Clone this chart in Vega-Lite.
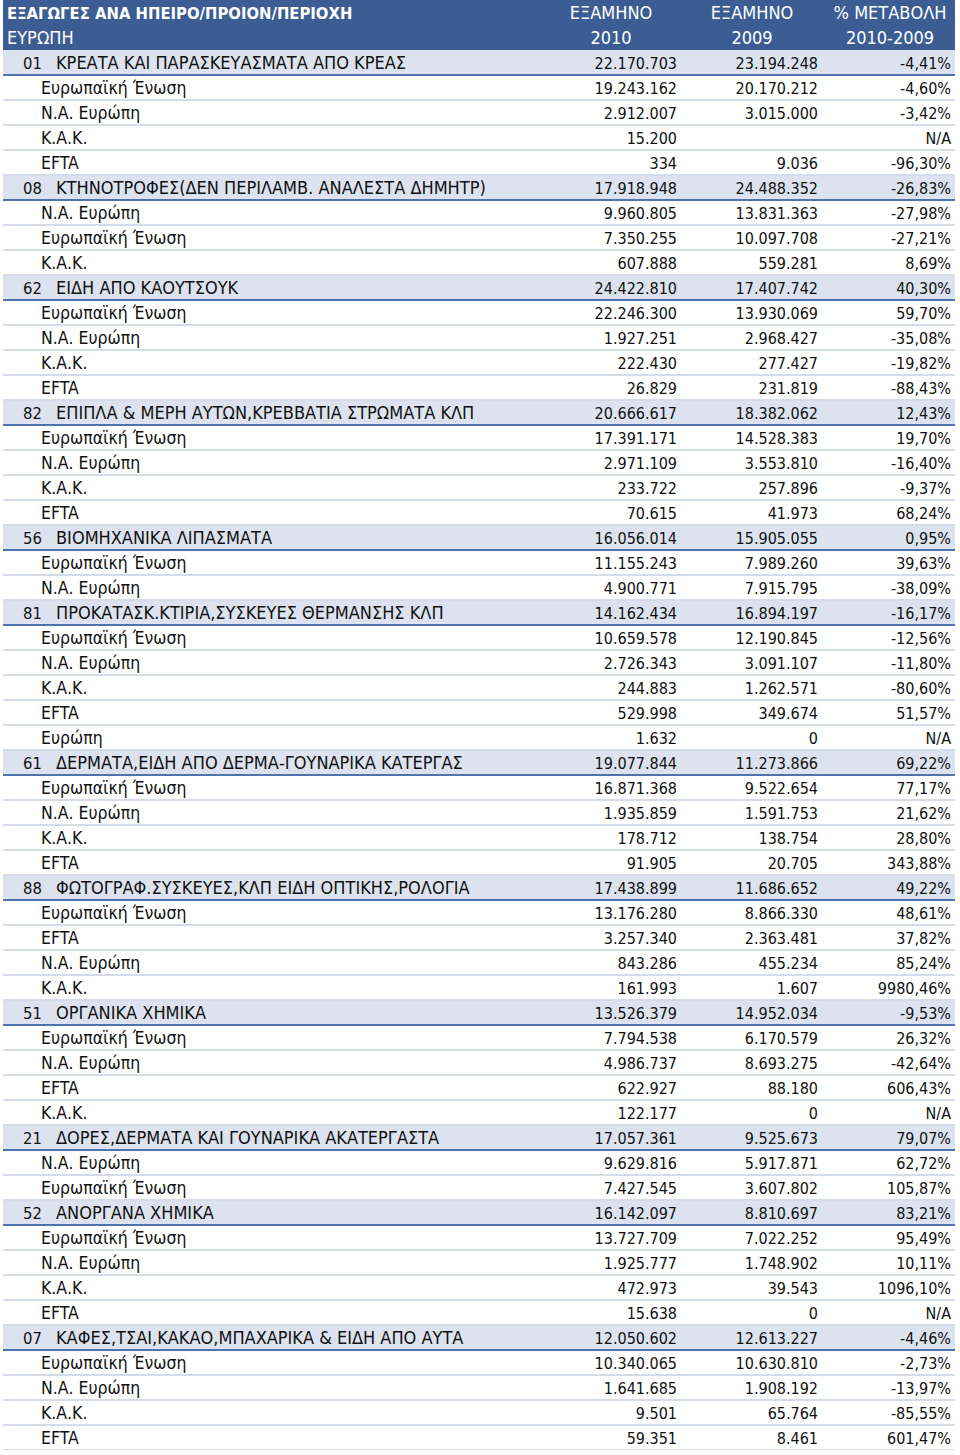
{
  "$schema": "https://vega.github.io/schema/vega-lite/v6.json",
  "width": 960,
  "height": 1450,
  "padding": 0,
  "autosize": {"type": "none"},
  "background": "white",
  "config": {
    "view": {"stroke": null},
    "text": {"font": "Liberation Sans Narrow, DejaVu Sans Condensed, sans-serif", "fontSize": 18, "color": "#111111", "baseline": "middle"}
  },
  "data": {
    "values": [
      {"r": 0, "kind": "h1", "code": "", "label": "ΕΞΑΓΩΓΕΣ ΑΝΑ ΗΠΕΙΡΟ/ΠΡΟΙΟΝ/ΠΕΡΙΟΧΗ", "a": "ΕΞΑΜΗΝΟ", "b": "ΕΞΑΜΗΝΟ", "c": "% ΜΕΤΑΒΟΛΗ"},
      {"r": 1, "kind": "h2", "code": "", "label": "ΕΥΡΩΠΗ", "a": "2010", "b": "2009", "c": "2010-2009"},
      {"r": 2, "kind": "cat", "code": "01", "label": "ΚΡΕΑΤΑ ΚΑΙ ΠΑΡΑΣΚΕΥΑΣΜΑΤΑ ΑΠΟ ΚΡΕΑΣ", "a": "22.170.703", "b": "23.194.248", "c": "-4,41%"},
      {"r": 3, "kind": "sub", "code": "", "label": "Ευρωπαϊκή Ένωση", "a": "19.243.162", "b": "20.170.212", "c": "-4,60%"},
      {"r": 4, "kind": "sub", "code": "", "label": "Ν.Α. Ευρώπη", "a": "2.912.007", "b": "3.015.000", "c": "-3,42%"},
      {"r": 5, "kind": "sub", "code": "", "label": "Κ.Α.Κ.", "a": "15.200", "b": "", "c": "N/A"},
      {"r": 6, "kind": "sub", "code": "", "label": "EFTA", "a": "334", "b": "9.036", "c": "-96,30%"},
      {"r": 7, "kind": "cat", "code": "08", "label": "ΚΤΗΝΟΤΡΟΦΕΣ(ΔΕΝ ΠΕΡΙΛΑΜΒ. ΑΝΑΛΕΣΤΑ ΔΗΜΗΤΡ)", "a": "17.918.948", "b": "24.488.352", "c": "-26,83%"},
      {"r": 8, "kind": "sub", "code": "", "label": "Ν.Α. Ευρώπη", "a": "9.960.805", "b": "13.831.363", "c": "-27,98%"},
      {"r": 9, "kind": "sub", "code": "", "label": "Ευρωπαϊκή Ένωση", "a": "7.350.255", "b": "10.097.708", "c": "-27,21%"},
      {"r": 10, "kind": "sub", "code": "", "label": "Κ.Α.Κ.", "a": "607.888", "b": "559.281", "c": "8,69%"},
      {"r": 11, "kind": "cat", "code": "62", "label": "ΕΙΔΗ ΑΠΟ ΚΑΟΥΤΣΟΥΚ", "a": "24.422.810", "b": "17.407.742", "c": "40,30%"},
      {"r": 12, "kind": "sub", "code": "", "label": "Ευρωπαϊκή Ένωση", "a": "22.246.300", "b": "13.930.069", "c": "59,70%"},
      {"r": 13, "kind": "sub", "code": "", "label": "Ν.Α. Ευρώπη", "a": "1.927.251", "b": "2.968.427", "c": "-35,08%"},
      {"r": 14, "kind": "sub", "code": "", "label": "Κ.Α.Κ.", "a": "222.430", "b": "277.427", "c": "-19,82%"},
      {"r": 15, "kind": "sub", "code": "", "label": "EFTA", "a": "26.829", "b": "231.819", "c": "-88,43%"},
      {"r": 16, "kind": "cat", "code": "82", "label": "ΕΠΙΠΛΑ & ΜΕΡΗ ΑΥΤΩΝ,ΚΡΕΒΒΑΤΙΑ ΣΤΡΩΜΑΤΑ ΚΛΠ", "a": "20.666.617", "b": "18.382.062", "c": "12,43%"},
      {"r": 17, "kind": "sub", "code": "", "label": "Ευρωπαϊκή Ένωση", "a": "17.391.171", "b": "14.528.383", "c": "19,70%"},
      {"r": 18, "kind": "sub", "code": "", "label": "Ν.Α. Ευρώπη", "a": "2.971.109", "b": "3.553.810", "c": "-16,40%"},
      {"r": 19, "kind": "sub", "code": "", "label": "Κ.Α.Κ.", "a": "233.722", "b": "257.896", "c": "-9,37%"},
      {"r": 20, "kind": "sub", "code": "", "label": "EFTA", "a": "70.615", "b": "41.973", "c": "68,24%"},
      {"r": 21, "kind": "cat", "code": "56", "label": "ΒΙΟΜΗΧΑΝΙΚΑ ΛΙΠΑΣΜΑΤΑ", "a": "16.056.014", "b": "15.905.055", "c": "0,95%"},
      {"r": 22, "kind": "sub", "code": "", "label": "Ευρωπαϊκή Ένωση", "a": "11.155.243", "b": "7.989.260", "c": "39,63%"},
      {"r": 23, "kind": "sub", "code": "", "label": "Ν.Α. Ευρώπη", "a": "4.900.771", "b": "7.915.795", "c": "-38,09%"},
      {"r": 24, "kind": "cat", "code": "81", "label": "ΠΡΟΚΑΤΑΣΚ.ΚΤΙΡΙΑ,ΣΥΣΚΕΥΕΣ ΘΕΡΜΑΝΣΗΣ ΚΛΠ", "a": "14.162.434", "b": "16.894.197", "c": "-16,17%"},
      {"r": 25, "kind": "sub", "code": "", "label": "Ευρωπαϊκή Ένωση", "a": "10.659.578", "b": "12.190.845", "c": "-12,56%"},
      {"r": 26, "kind": "sub", "code": "", "label": "Ν.Α. Ευρώπη", "a": "2.726.343", "b": "3.091.107", "c": "-11,80%"},
      {"r": 27, "kind": "sub", "code": "", "label": "Κ.Α.Κ.", "a": "244.883", "b": "1.262.571", "c": "-80,60%"},
      {"r": 28, "kind": "sub", "code": "", "label": "EFTA", "a": "529.998", "b": "349.674", "c": "51,57%"},
      {"r": 29, "kind": "sub", "code": "", "label": "Ευρώπη", "a": "1.632", "b": "0", "c": "N/A"},
      {"r": 30, "kind": "cat", "code": "61", "label": "ΔΕΡΜΑΤΑ,ΕΙΔΗ ΑΠΟ ΔΕΡΜΑ-ΓΟΥΝΑΡΙΚΑ ΚΑΤΕΡΓΑΣ", "a": "19.077.844", "b": "11.273.866", "c": "69,22%"},
      {"r": 31, "kind": "sub", "code": "", "label": "Ευρωπαϊκή Ένωση", "a": "16.871.368", "b": "9.522.654", "c": "77,17%"},
      {"r": 32, "kind": "sub", "code": "", "label": "Ν.Α. Ευρώπη", "a": "1.935.859", "b": "1.591.753", "c": "21,62%"},
      {"r": 33, "kind": "sub", "code": "", "label": "Κ.Α.Κ.", "a": "178.712", "b": "138.754", "c": "28,80%"},
      {"r": 34, "kind": "sub", "code": "", "label": "EFTA", "a": "91.905", "b": "20.705", "c": "343,88%"},
      {"r": 35, "kind": "cat", "code": "88", "label": "ΦΩΤΟΓΡΑΦ.ΣΥΣΚΕΥΕΣ,ΚΛΠ ΕΙΔΗ ΟΠΤΙΚΗΣ,ΡΟΛΟΓΙΑ", "a": "17.438.899", "b": "11.686.652", "c": "49,22%"},
      {"r": 36, "kind": "sub", "code": "", "label": "Ευρωπαϊκή Ένωση", "a": "13.176.280", "b": "8.866.330", "c": "48,61%"},
      {"r": 37, "kind": "sub", "code": "", "label": "EFTA", "a": "3.257.340", "b": "2.363.481", "c": "37,82%"},
      {"r": 38, "kind": "sub", "code": "", "label": "Ν.Α. Ευρώπη", "a": "843.286", "b": "455.234", "c": "85,24%"},
      {"r": 39, "kind": "sub", "code": "", "label": "Κ.Α.Κ.", "a": "161.993", "b": "1.607", "c": "9980,46%"},
      {"r": 40, "kind": "cat", "code": "51", "label": "ΟΡΓΑΝΙΚΑ ΧΗΜΙΚΑ", "a": "13.526.379", "b": "14.952.034", "c": "-9,53%"},
      {"r": 41, "kind": "sub", "code": "", "label": "Ευρωπαϊκή Ένωση", "a": "7.794.538", "b": "6.170.579", "c": "26,32%"},
      {"r": 42, "kind": "sub", "code": "", "label": "Ν.Α. Ευρώπη", "a": "4.986.737", "b": "8.693.275", "c": "-42,64%"},
      {"r": 43, "kind": "sub", "code": "", "label": "EFTA", "a": "622.927", "b": "88.180", "c": "606,43%"},
      {"r": 44, "kind": "sub", "code": "", "label": "Κ.Α.Κ.", "a": "122.177", "b": "0", "c": "N/A"},
      {"r": 45, "kind": "cat", "code": "21", "label": "ΔΟΡΕΣ,ΔΕΡΜΑΤΑ ΚΑΙ ΓΟΥΝΑΡΙΚΑ ΑΚΑΤΕΡΓΑΣΤΑ", "a": "17.057.361", "b": "9.525.673", "c": "79,07%"},
      {"r": 46, "kind": "sub", "code": "", "label": "Ν.Α. Ευρώπη", "a": "9.629.816", "b": "5.917.871", "c": "62,72%"},
      {"r": 47, "kind": "sub", "code": "", "label": "Ευρωπαϊκή Ένωση", "a": "7.427.545", "b": "3.607.802", "c": "105,87%"},
      {"r": 48, "kind": "cat", "code": "52", "label": "ΑΝΟΡΓΑΝΑ ΧΗΜΙΚΑ", "a": "16.142.097", "b": "8.810.697", "c": "83,21%"},
      {"r": 49, "kind": "sub", "code": "", "label": "Ευρωπαϊκή Ένωση", "a": "13.727.709", "b": "7.022.252", "c": "95,49%"},
      {"r": 50, "kind": "sub", "code": "", "label": "Ν.Α. Ευρώπη", "a": "1.925.777", "b": "1.748.902", "c": "10,11%"},
      {"r": 51, "kind": "sub", "code": "", "label": "Κ.Α.Κ.", "a": "472.973", "b": "39.543", "c": "1096,10%"},
      {"r": 52, "kind": "sub", "code": "", "label": "EFTA", "a": "15.638", "b": "0", "c": "N/A"},
      {"r": 53, "kind": "cat", "code": "07", "label": "ΚΑΦΕΣ,ΤΣΑΙ,ΚΑΚΑΟ,ΜΠΑΧΑΡΙΚΑ & ΕΙΔΗ ΑΠΟ ΑΥΤΑ", "a": "12.050.602", "b": "12.613.227", "c": "-4,46%"},
      {"r": 54, "kind": "sub", "code": "", "label": "Ευρωπαϊκή Ένωση", "a": "10.340.065", "b": "10.630.810", "c": "-2,73%"},
      {"r": 55, "kind": "sub", "code": "", "label": "Ν.Α. Ευρώπη", "a": "1.641.685", "b": "1.908.192", "c": "-13,97%"},
      {"r": 56, "kind": "sub", "code": "", "label": "Κ.Α.Κ.", "a": "9.501", "b": "65.764", "c": "-85,55%"},
      {"r": 57, "kind": "sub", "code": "", "label": "EFTA", "a": "59.351", "b": "8.461", "c": "601,47%"}
    ]
  },
  "encoding": {
    "y": {"field": "r", "type": "ordinal", "axis": null, "scale": {"paddingInner": 0, "paddingOuter": 0}}
  },
  "layer": [
    {
      "transform": [{"filter": "datum.kind === 'h1' || datum.kind === 'h2'"}],
      "mark": {"type": "rect", "fill": "#3b5d93"},
      "encoding": {"x": {"value": 3}, "x2": {"value": 955}}
    },
    {
      "transform": [{"filter": "datum.kind === 'cat'"}],
      "mark": {"type": "rect", "fill": "#dce3ef"},
      "encoding": {"x": {"value": 3}, "x2": {"value": 955}}
    },
    {
      "transform": [{"filter": "datum.kind === 'sub'"}],
      "mark": {"type": "rule", "stroke": "#d5dbe7", "strokeWidth": 2},
      "encoding": {"y": {"field": "r", "type": "ordinal", "bandPosition": 1}, "x": {"value": 3}, "x2": {"value": 955}}
    },
    {
      "transform": [{"filter": "datum.kind === 'cat'"}],
      "mark": {"type": "rule", "stroke": "#4f73ad", "strokeWidth": 2},
      "encoding": {"y": {"field": "r", "type": "ordinal", "bandPosition": 1}, "x": {"value": 3}, "x2": {"value": 955}}
    },
    {
      "transform": [{"filter": "datum.kind === 'h1'"}],
      "mark": {"type": "text", "align": "left", "color": "white", "fontWeight": "bold", "fontSize": 16.5, "dy": 1},
      "encoding": {"x": {"value": 7}, "text": {"field": "label"}}
    },
    {
      "transform": [{"filter": "datum.kind === 'h2'"}],
      "mark": {"type": "text", "align": "left", "color": "white", "dy": 1},
      "encoding": {"x": {"value": 7}, "text": {"field": "label"}}
    },
    {
      "transform": [{"filter": "datum.kind === 'h1' || datum.kind === 'h2'"}],
      "mark": {"type": "text", "align": "center", "color": "white", "dy": 1},
      "encoding": {"x": {"value": 611}, "text": {"field": "a"}}
    },
    {
      "transform": [{"filter": "datum.kind === 'h1' || datum.kind === 'h2'"}],
      "mark": {"type": "text", "align": "center", "color": "white", "dy": 1},
      "encoding": {"x": {"value": 752}, "text": {"field": "b"}}
    },
    {
      "transform": [{"filter": "datum.kind === 'h1' || datum.kind === 'h2'"}],
      "mark": {"type": "text", "align": "center", "color": "white", "dy": 1},
      "encoding": {"x": {"value": 890}, "text": {"field": "c"}}
    },
    {
      "transform": [{"filter": "datum.kind === 'cat'"}],
      "mark": {"type": "text", "align": "left", "fontSize": 16.5, "dy": 1},
      "encoding": {"x": {"value": 23}, "text": {"field": "code"}}
    },
    {
      "transform": [{"filter": "datum.kind === 'cat'"}],
      "mark": {"type": "text", "align": "left", "dy": 1},
      "encoding": {"x": {"value": 56}, "text": {"field": "label"}}
    },
    {
      "transform": [{"filter": "datum.kind === 'sub'"}],
      "mark": {"type": "text", "align": "left", "fontSize": 17.5, "dy": 1},
      "encoding": {"x": {"value": 41}, "text": {"field": "label"}}
    },
    {
      "transform": [{"filter": "datum.kind === 'cat' || datum.kind === 'sub'"}],
      "mark": {"type": "text", "align": "right", "fontSize": 16, "dy": 1},
      "encoding": {"x": {"value": 677}, "text": {"field": "a"}}
    },
    {
      "transform": [{"filter": "datum.kind === 'cat' || datum.kind === 'sub'"}],
      "mark": {"type": "text", "align": "right", "fontSize": 16, "dy": 1},
      "encoding": {"x": {"value": 818}, "text": {"field": "b"}}
    },
    {
      "transform": [{"filter": "datum.kind === 'cat' || datum.kind === 'sub'"}],
      "mark": {"type": "text", "align": "right", "fontSize": 16, "dy": 1},
      "encoding": {"x": {"value": 951}, "text": {"field": "c"}}
    }
  ]
}
